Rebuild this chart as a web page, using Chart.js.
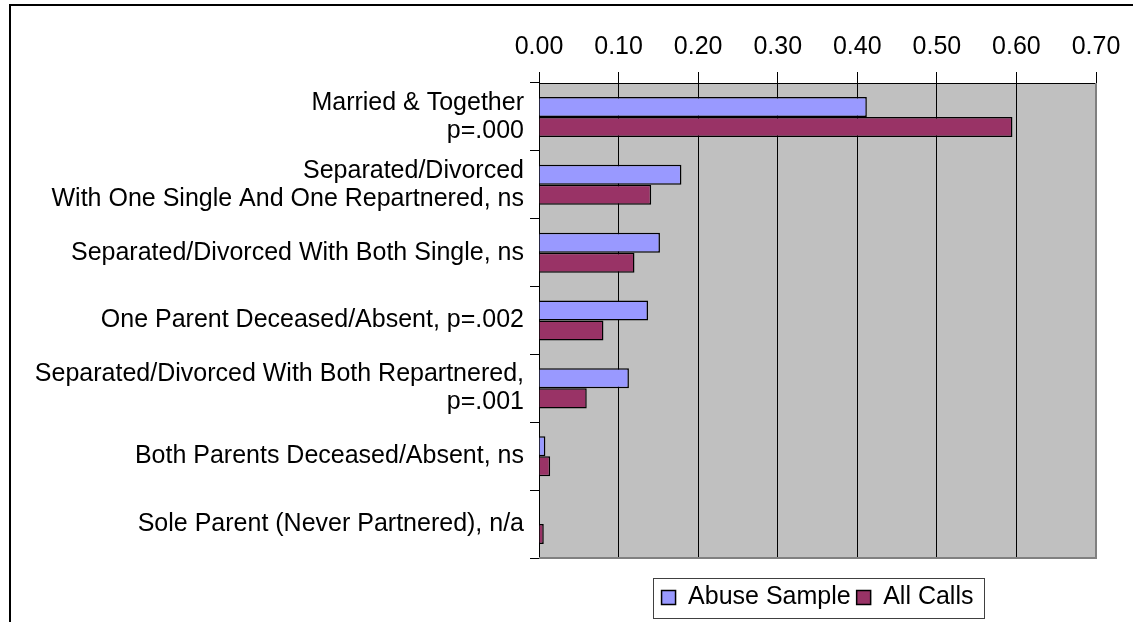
<!DOCTYPE html>
<html>
<head>
<meta charset="utf-8">
<title>Family structure</title>
<script src="https://cdn.jsdelivr.net/npm/chart.js@4"></script>
<style>
  html, body { margin: 0; padding: 0; background: #fff; overflow: hidden; }
  #wrap { width: 1133px; height: 622px; position: relative; }
</style>
</head>
<body>
<div id="wrap"><canvas id="chart"></canvas></div>
<script>
// categories (top to bottom)
const categories = [
  ['Married & Together', 'p=.000'],
  ['Separated/Divorced', 'With One Single And One Repartnered, ns'],
  'Separated/Divorced With Both Single, ns',
  'One Parent Deceased/Absent, p=.002',
  ['Separated/Divorced With Both Repartnered,', 'p=.001'],
  'Both Parents Deceased/Absent, ns',
  'Sole Parent (Never Partnered), n/a'
];

const abuseSample = [0.412, 0.179, 0.152, 0.137, 0.113, 0.008, 0];
const allCalls    = [0.595, 0.141, 0.120, 0.081, 0.060, 0.014, 0.006];

const seriesNames = ['Abuse Sample', 'All Calls'];

// x axis: 0.00 .. 0.70
const xMin = 0;
const xMax = 0.7;
const xStep = 0.1;

const COLORS = {
  abuse: '#9999ff',
  calls: '#993366',
  plot: '#c0c0c0',
  plotEdge: '#808080'
};

const FONT = 'Arial, "Liberation Sans", sans-serif';

// grey plot area, outer frame, legend box
const excelLook = {
  id: 'excelLook',
  beforeDraw(chart) {
    const { ctx, chartArea: a } = chart;
    ctx.save();
    ctx.fillStyle = COLORS.plot;
    ctx.fillRect(a.left, a.top, a.right - a.left, a.bottom - a.top);
    // outer chart border (only top and left visible)
    ctx.strokeStyle = '#000';
    ctx.lineWidth = 2;
    ctx.beginPath();
    ctx.moveTo(10, chart.height);
    ctx.lineTo(10, 5);
    ctx.lineTo(chart.width, 5);
    ctx.stroke();
    ctx.restore();
  },
  afterDatasetsDraw(chart) {
    const { ctx, chartArea: a } = chart;
    ctx.save();
    ctx.strokeStyle = COLORS.plotEdge;
    ctx.lineWidth = 2;
    ctx.beginPath();
    ctx.moveTo(a.left, a.bottom);
    ctx.lineTo(a.right, a.bottom);
    ctx.lineTo(a.right, a.top);
    ctx.stroke();
    ctx.restore();
  },
  afterDraw(chart) {
    const boxes = chart.legend && chart.legend.legendHitBoxes;
    if (!boxes || !boxes.length) return;
    const left = Math.min(...boxes.map(b => b.left)) - 9;
    const right = Math.max(...boxes.map(b => b.left + b.width)) + 10;
    const mid = boxes[0].top + boxes[0].height / 2;
    const { ctx } = chart;
    ctx.save();
    ctx.strokeStyle = '#404040';
    ctx.lineWidth = 1;
    ctx.strokeRect(Math.round(left) + 0.5, Math.round(mid - 20) + 0.5,
                   Math.round(right - left), 40);
    ctx.restore();
  }
};

new Chart(document.getElementById('chart'), {
  type: 'bar',
  data: {
    labels: categories,
    datasets: [
      {
        label: seriesNames[0],
        data: abuseSample,
        backgroundColor: COLORS.abuse,
        borderColor: '#000',
        borderWidth: 1.5,
        categoryPercentage: 0.59,
        barPercentage: 1.0
      },
      {
        label: seriesNames[1],
        data: allCalls,
        backgroundColor: COLORS.calls,
        borderColor: '#000',
        borderWidth: 1.5,
        categoryPercentage: 0.59,
        barPercentage: 1.0
      }
    ]
  },
  options: {
    indexAxis: 'y',
    responsive: true,
    maintainAspectRatio: false,
    animation: false,
    layout: { padding: { left: 0, right: 37, top: 0, bottom: 2 } },
    plugins: {
      tooltip: { enabled: false },
      legend: {
        position: 'bottom',
        fullSize: false,
        title: { display: true, text: '', font: { size: 1, lineHeight: 1 }, padding: { top: 0, bottom: 20 } },
        labels: {
          color: '#000',
          font: { family: FONT, size: 25 },
          boxWidth: 14,
          boxHeight: 14,
          padding: 6
        }
      }
    },
    scales: {
      x: {
        position: 'top',
        min: xMin,
        max: xMax,
        afterFit(scale) { scale.height = 83; },
        ticks: {
          stepSize: xStep,
          color: '#000',
          padding: 10,
          font: { family: FONT, size: 25 },
          callback: v => Number(v).toFixed(2)
        },
        grid: { color: '#000', lineWidth: 1, tickLength: 11 },
        border: { color: '#000', width: 1 }
      },
      y: {
        afterFit(scale) { scale.width = 539; },
        ticks: {
          color: '#000',
          padding: 6,
          font: { family: FONT, size: 25, lineHeight: 1.12 }
        },
        grid: { offset: true, drawOnChartArea: false, color: '#000', tickLength: 9 },
        border: { color: '#000', width: 1 }
      }
    }
  },
  plugins: [excelLook]
});
</script>
</body>
</html>
